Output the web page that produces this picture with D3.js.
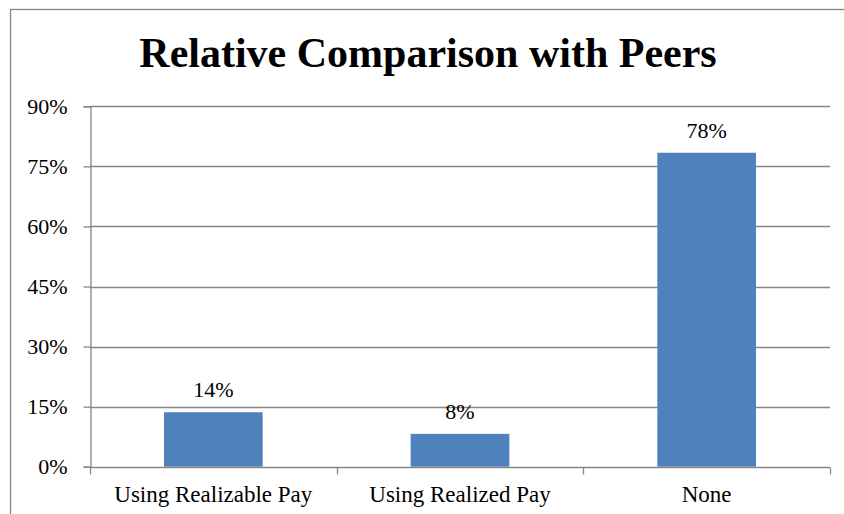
<!DOCTYPE html>
<html>
<head>
<meta charset="utf-8">
<script src="https://cdn.jsdelivr.net/npm/d3@7/dist/d3.min.js"></script>
<style>
  html, body { margin: 0; padding: 0; background: #ffffff; }
  svg { display: block; }
</style>
</head>
<body>
<svg id="chart" width="844" height="514"></svg>
<script>
// Share of companies by peer-comparison method
const categories = ["Using Realizable Pay", "Using Realized Pay", "None"];
const shares = [0.136, 0.082, 0.784];
const yTicks = [0, 0.15, 0.30, 0.45, 0.60, 0.75, 0.90];
const titleText = "Relative Comparison with Peers";

const FONT = "'Liberation Serif', 'Times New Roman', Tinos, 'DejaVu Serif', serif";
const svg = d3.select("#chart").attr("font-family", FONT);
const plot = { left: 90, right: 830, top: 106.3, bottom: 466.7 };
const gray = "#868686";
const barColor = "#4F81BD";

// Chart frame (runs past the visible window on the right and bottom)
svg.append("rect")
  .attr("x", 10.5).attr("y", 9.5)
  .attr("width", 900).attr("height", 600)
  .attr("fill", "none").attr("stroke", gray).attr("stroke-width", 1.3);

// Title
svg.append("text")
  .attr("x", 428).attr("y", 66.5)
  .attr("text-anchor", "middle")
  .attr("font-family", FONT)
  .attr("font-size", 42).attr("font-weight", "bold")
  .attr("fill", "#000")
  .text(titleText);

const x = d3.scaleBand()
  .domain(categories)
  .range([plot.left, plot.right])
  .paddingInner(0.6).paddingOuter(0.3);

const y = d3.scaleLinear()
  .domain([0, 0.90])
  .range([plot.bottom, plot.top]);

// Horizontal gridlines
svg.append("g")
  .selectAll("line")
  .data(yTicks.filter(d => d > 0))
  .join("line")
  .attr("x1", plot.left).attr("x2", plot.right)
  .attr("y1", d => Math.round(y(d)) + 0.5).attr("y2", d => Math.round(y(d)) + 0.5)
  .attr("stroke", gray).attr("stroke-width", 1.3);

// Y axis
const yAxis = d3.axisLeft(y)
  .tickValues(yTicks)
  .tickFormat(d3.format(".0%"))
  .tickSize(7).tickPadding(16);
const gy = svg.append("g")
  .attr("transform", `translate(${plot.left + 0.5},0)`)
  .call(yAxis)
  .attr("font-family", FONT)
  .attr("font-size", 22);
gy.select(".domain").attr("stroke", gray).attr("stroke-width", 1.3);
gy.selectAll(".tick line").attr("stroke", gray).attr("stroke-width", 1.3);
gy.selectAll(".tick text").attr("fill", "#000");

// Bars
const rows = categories.map((c, i) => ({ c, v: shares[i] }));
svg.append("g")
  .selectAll("rect")
  .data(rows)
  .join("rect")
  .attr("x", d => x(d.c))
  .attr("width", x.bandwidth())
  .attr("y", d => y(d.v))
  .attr("height", d => y(0) - y(d.v))
  .attr("fill", barColor);

// Value labels
svg.append("g")
  .attr("font-family", FONT)
  .attr("font-size", 22)
  .selectAll("text")
  .data(rows)
  .join("text")
  .attr("x", d => x(d.c) + x.bandwidth() / 2)
  .attr("y", d => y(d.v) - 15)
  .attr("text-anchor", "middle")
  .attr("fill", "#000")
  .text(d => d3.format(".0%")(d.v));

// X axis with ticks at category boundaries
const gx = svg.append("g")
  .attr("transform", `translate(0,${Math.round(plot.bottom) + 0.5})`)
  .attr("font-family", FONT)
  .attr("font-size", 23);
gx.append("line")
  .attr("x1", plot.left).attr("x2", plot.right)
  .attr("stroke", gray).attr("stroke-width", 1.3);
const bounds = d3.range(categories.length + 1).map(i => plot.left + i * x.step());
gx.selectAll(".bt")
  .data(bounds)
  .join("line")
  .attr("class", "bt")
  .attr("x1", d => Math.round(d) + 0.5).attr("x2", d => Math.round(d) + 0.5)
  .attr("y1", 0).attr("y2", 7)
  .attr("stroke", gray).attr("stroke-width", 1.3);
gx.selectAll(".cat")
  .data(categories)
  .join("text")
  .attr("class", "cat")
  .attr("x", d => x(d) + x.bandwidth() / 2)
  .attr("y", 34.5)
  .attr("text-anchor", "middle")
  .attr("fill", "#000")
  .text(d => d);
</script>
</body>
</html>
